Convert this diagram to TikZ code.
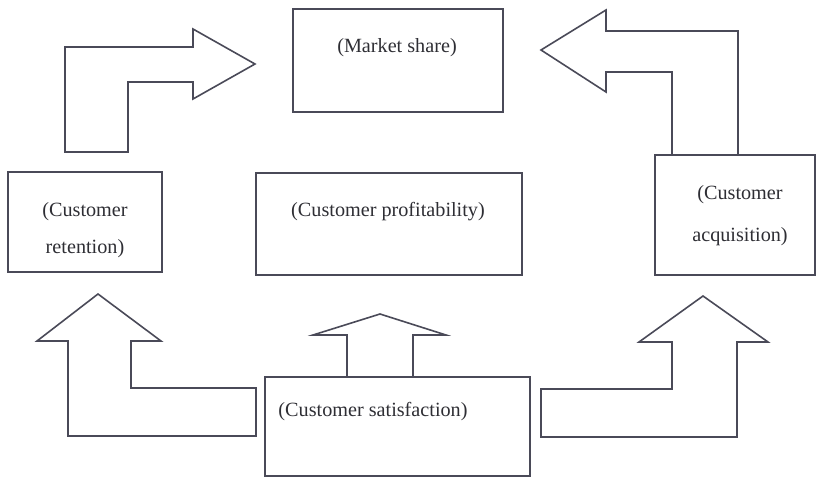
\documentclass[tikz,border=0pt]{standalone}
\usepackage{fontspec}
\setmainfont{Liberation Serif}
\definecolor{ink}{HTML}{4A4A58}
\definecolor{txt}{HTML}{2E2E34}
\tikzset{
  box/.style={draw=ink, line width=1.6pt, inner sep=0pt},
  blockarrow/.style={draw=ink, line width=1.6pt, line join=miter},
  lbl/.style={text=txt, font=\fontsize{20.2}{22}\selectfont, inner sep=0pt, anchor=center}
}
\begin{document}
\begin{tikzpicture}[x=1pt,y=-1pt]
\useasboundingbox (0,0) rectangle (816,479);
% boxes
\node[box, minimum width=210pt, minimum height=103pt] (ms) at (398,60.5) {};
\node[box, minimum width=154pt, minimum height=100pt] (ret) at (85,222) {};
\node[box, minimum width=266pt, minimum height=102pt] (prof) at (389,224) {};
\node[box, minimum width=160pt, minimum height=120pt] (acq) at (735,215) {};
\node[box, minimum width=265pt, minimum height=99pt] (sat) at (397.5,426.5) {};
% texts
\node[lbl] (mst) at (397,48) {(Market share)};
\node[lbl] (ret1) at (85,212) {(Customer};
\node[lbl] (ret2) at (85,249) {retention)};
\node[lbl] (proft) at (388,212) {(Customer profitability)};
\node[lbl] (acq1) at (740,195) {(Customer};
\node[lbl] (acq2) at (740,237) {acquisition)};
\node[lbl] (satt) at (373,412) {(Customer satisfaction)};
% block arrows
\draw[blockarrow] (65,152) -- (65,47) -- (193,47) -- (193,29) -- (255,64) -- (193,99) -- (193,82) -- (128,82) -- (128,152) -- cycle;
\draw[blockarrow] (672,155) -- (672,72) -- (606,72) -- (606,92) -- (541,50) -- (606,10) -- (606,31) -- (738,31) -- (738,155);
\draw[blockarrow] (256,436) -- (68,436) -- (68,341) -- (37,341) -- (98,294) -- (161,341) -- (131,341) -- (131,388) -- (256,388) -- cycle;
\draw[blockarrow] (347,377) -- (347,335) -- (313,335) -- (380,314) -- (446,335) -- (413,335) -- (413,377);
\draw[blockarrow] (541,389) -- (672,389) -- (672,342) -- (639,342) -- (703,296) -- (768,342) -- (737,342) -- (737,437) -- (541,437) -- cycle;
\end{tikzpicture}
\end{document}
